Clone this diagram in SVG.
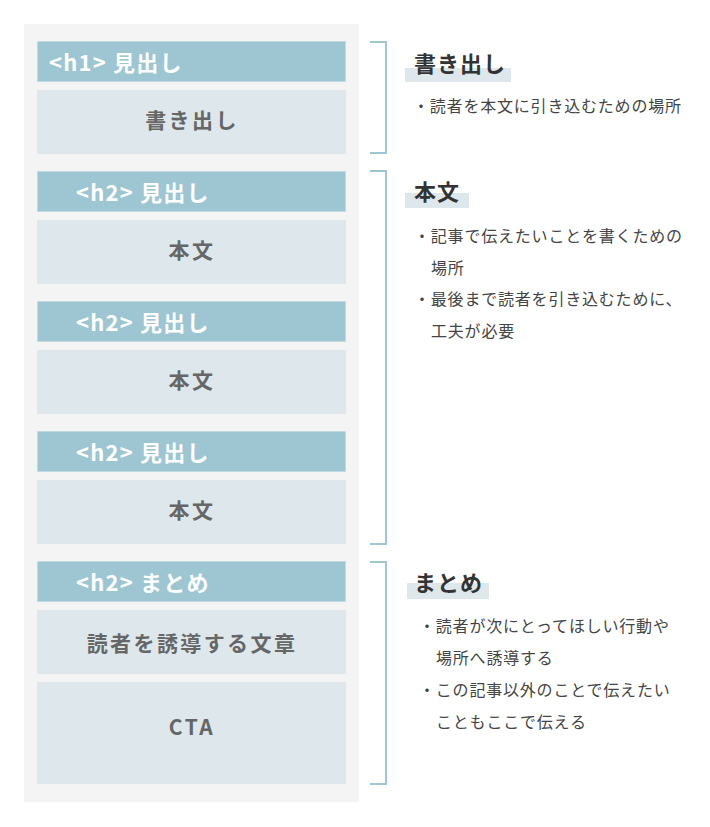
<svg xmlns="http://www.w3.org/2000/svg" width="710" height="827" viewBox="0 0 710 827">
<style>
text{font-family:"Noto Sans CJK JP","Noto Sans",sans-serif}
.panel{fill:#f4f4f4}
.bar{fill:#9dc6d2;stroke:#b9d6de;stroke-width:1;stroke-dasharray:1 1}
.box{fill:#dee8ec}
.bt{fill:#ffffff;font-size:22px;font-weight:700;letter-spacing:1.2px}
.body{fill:#666666;font-size:21px;font-weight:700;letter-spacing:2.4px;text-anchor:middle}
.br{fill:none;stroke:#9ec7d3;stroke-width:2}
.hl{fill:#dee8ec}
.hd{fill:#333333;font-size:22px;font-weight:700;letter-spacing:1px}
.li{fill:#444444;font-size:16px;letter-spacing:0.8px}
</style>
<rect class="panel" x="24" y="24" width="335" height="778"/>
<g id="sec-intro">
<rect class="bar" x="37.5" y="41.5" width="308" height="40"/>
<text class="bt" x="49" y="71">&lt;h1&gt; 見出し</text>
<rect class="box" x="37" y="90" width="309" height="64"/>
<text class="body" x="192" y="128">書き出し</text>
</g>
<g id="sec-body1">
<rect class="bar" x="37.5" y="171.5" width="308" height="40"/>
<text class="bt" x="76" y="201">&lt;h2&gt; 見出し</text>
<rect class="box" x="37" y="220" width="309" height="64"/>
<text class="body" x="192" y="258">本文</text>
</g>
<g id="sec-body2">
<rect class="bar" x="37.5" y="301.5" width="308" height="40"/>
<text class="bt" x="76" y="331">&lt;h2&gt; 見出し</text>
<rect class="box" x="37" y="350" width="309" height="64"/>
<text class="body" x="192" y="388">本文</text>
</g>
<g id="sec-body3">
<rect class="bar" x="37.5" y="431.5" width="308" height="40"/>
<text class="bt" x="76" y="461">&lt;h2&gt; 見出し</text>
<rect class="box" x="37" y="480" width="309" height="64"/>
<text class="body" x="192" y="518">本文</text>
</g>
<g id="sec-summary">
<rect class="bar" x="37.5" y="561.5" width="308" height="40"/>
<text class="bt" x="76" y="591">&lt;h2&gt; まとめ</text>
<rect class="box" x="37" y="610" width="309" height="64"/>
<text class="body" x="192" y="651">読者を誘導する文章</text>
<rect class="box" x="37" y="682" width="309" height="102"/>
<text class="body" x="192" y="735">CTA</text>
</g>
<g id="connectors">
<path class="br" d="M370 42 H386 V153 H370"/>
<path class="br" d="M370 171 H386 V544 H370"/>
<path class="br" d="M370 562 H386 V784 H370"/>
</g>
<g id="note-intro">
<rect class="hl" x="405" y="68" width="106" height="14"/>
<text class="hd" x="414" y="72">書き出し</text>
<text class="li" x="413" y="112">・読者を本文に引き込むための場所</text>
</g>
<g id="note-body">
<rect class="hl" x="405" y="193" width="64" height="15"/>
<text class="hd" x="414" y="200">本文</text>
<text class="li" x="414" y="242">・記事で伝えたいことを書くための</text>
<text class="li" x="431" y="273.5">場所</text>
<text class="li" x="414" y="305">・最後まで読者を引き込むために、</text>
<text class="li" x="431" y="337">工夫が必要</text>
</g>
<g id="note-summary">
<rect class="hl" x="407" y="583" width="82" height="16"/>
<text class="hd" x="414" y="591">まとめ</text>
<text class="li" x="419" y="632">・読者が次にとってほしい行動や</text>
<text class="li" x="436" y="664">場所へ誘導する</text>
<text class="li" x="419" y="696">・この記事以外のことで伝えたい</text>
<text class="li" x="436" y="728">こともここで伝える</text>
</g>
</svg>
